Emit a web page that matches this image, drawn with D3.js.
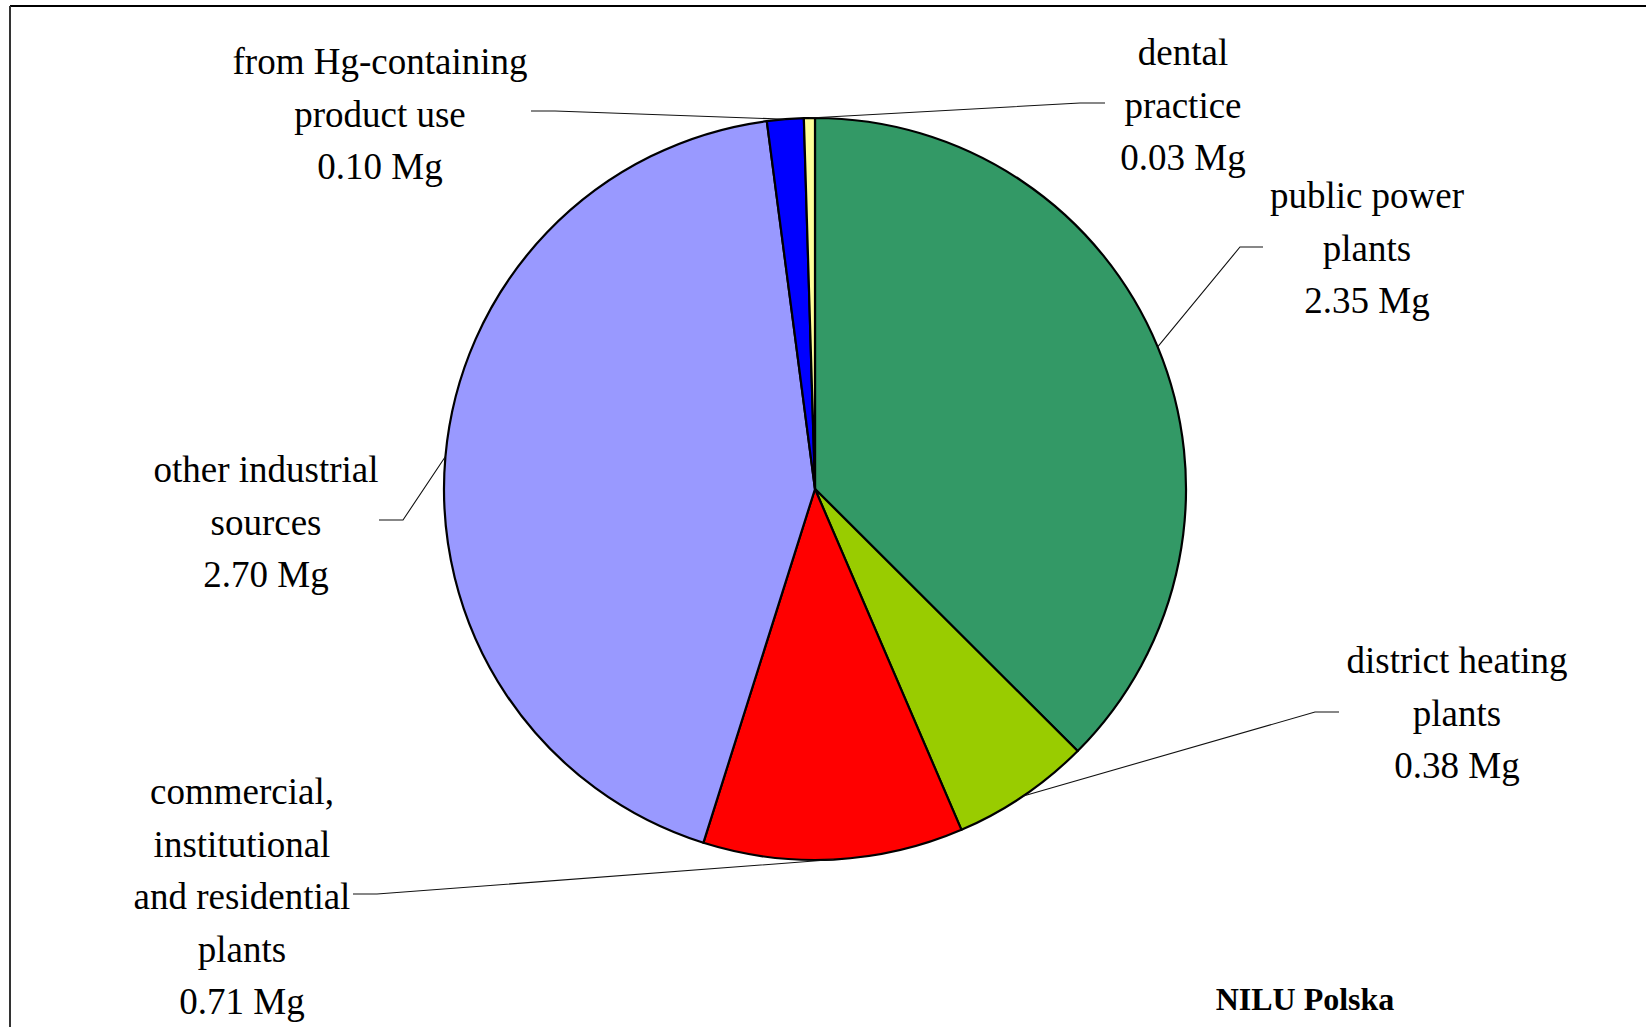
<!DOCTYPE html>
<html>
<head>
<meta charset="utf-8">
<script src="https://cdn.jsdelivr.net/npm/d3@7"></script>
<style>
  html, body { margin: 0; padding: 0; background: #fff; }
  svg { display: block; }
  text { font-family: "Liberation Serif", "Times New Roman", serif; fill: #000; }
</style>
</head>
<body>
<svg id="chart" width="1646" height="1027"></svg>
<script>
// Mercury emission sources (Mg), clockwise from 12 o'clock
const categories = [
  "public power plants",
  "district heating plants",
  "commercial, institutional and residential plants",
  "other industrial sources",
  "from Hg-containing product use",
  "dental practice"
];
const values = [2.35, 0.38, 0.71, 2.70, 0.10, 0.03];
const colors = ["#339966", "#99CC00", "#FF0000", "#9999FF", "#0000FF", "#FFFF99"];

// label text lines (value line is appended)
const labelLines = [
  ["public power", "plants"],
  ["district heating", "plants"],
  ["commercial,", "institutional", "and residential", "plants"],
  ["other industrial", "sources"],
  ["from Hg-containing", "product use"],
  ["dental", "practice"]
];

const svg = d3.select("#chart");
const W = 1646, H = 1027;

// frame (top and left edges visible)
svg.append("line").attr("x1", 10).attr("y1", 6).attr("x2", W).attr("y2", 6)
  .attr("stroke", "#000").attr("stroke-width", 2);
svg.append("line").attr("x1", 10).attr("y1", 6).attr("x2", 10).attr("y2", H)
  .attr("stroke", "#333").attr("stroke-width", 2);

const cx = 815, cy = 489, r = 371;
const g = svg.append("g").attr("transform", `translate(${cx},${cy})`);

const data = categories.map((c, i) => ({ name: c, value: values[i], color: colors[i], lines: labelLines[i] }));

const pie = d3.pie().value(d => d.value).sort(null);
const arcs = pie(data);
const arc = d3.arc().innerRadius(0).outerRadius(r);
const edge = d3.arc().innerRadius(r).outerRadius(r);

// label layout: text centre x, first baseline, and the leader's horizontal run
const layout = [
  { x: 1367, y: 208, lead: [[1263, 247], [1240, 247]] },
  { x: 1457, y: 673, lead: [[1339, 712], [1315, 712]] },
  { x: 242,  y: 804, lead: [[353, 894], [377, 894]] },
  { x: 266,  y: 482, lead: [[379, 520], [403, 520]] },
  { x: 380,  y: 74,  lead: [[531, 111], [555, 111]] },
  { x: 1183, y: 65,  lead: [[1105, 103], [1080, 103]] }
];
const lineH = 52.5;

// leader lines
arcs.forEach((a, i) => {
  const [ex, ey] = edge.centroid(a);
  const pts = layout[i].lead.concat([[cx + ex, cy + ey]]);
  svg.append("path")
    .attr("d", d3.line()(pts))
    .attr("fill", "none")
    .attr("stroke", "#111")
    .attr("stroke-width", 1.1);
});

// slices
g.selectAll("path.slice")
  .data(arcs)
  .join("path")
  .attr("class", "slice")
  .attr("d", arc)
  .attr("fill", d => d.data.color)
  .attr("stroke", "#000")
  .attr("stroke-width", 2.2)
  .attr("stroke-linejoin", "round");

// labels
arcs.forEach((a, i) => {
  const L = layout[i];
  const lines = a.data.lines.concat([d3.format(".2f")(a.data.value) + " Mg"]);
  const t = svg.append("text")
    .attr("text-anchor", "middle")
    .attr("font-size", 37);
  lines.forEach((s, k) => {
    t.append("tspan").attr("x", L.x).attr("y", L.y + k * lineH).text(s);
  });
});

// source credit
svg.append("text")
  .attr("x", 1305).attr("y", 1010)
  .attr("text-anchor", "middle")
  .attr("font-size", 32)
  .attr("font-weight", "bold")
  .text("NILU Polska");
</script>
</body>
</html>
